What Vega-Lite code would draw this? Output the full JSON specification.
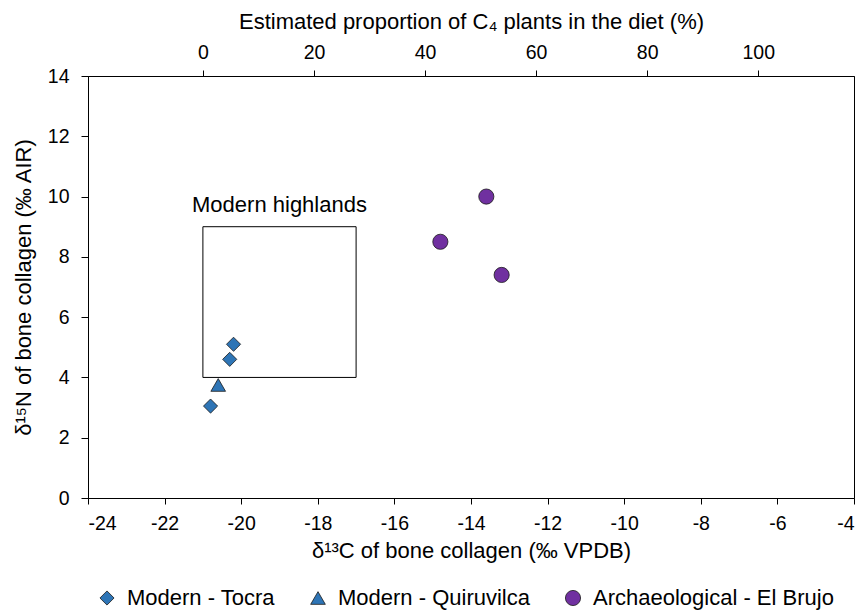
{
  "$schema": "https://vega.github.io/schema/vega-lite/v6.json",
  "autosize": {"type": "none"},
  "width": 766,
  "height": 422,
  "padding": {"left": 88, "top": 76, "right": 5, "bottom": 115},
  "background": "white",
  "config": {
    "font": "Liberation Sans",
    "view": {"stroke": "black", "strokeWidth": 1},
    "axis": {
      "grid": false,
      "domainColor": "black",
      "tickColor": "black",
      "labelColor": "black",
      "titleColor": "black",
      "labelFont": "Liberation Sans",
      "titleFont": "Liberation Sans",
      "labelFontSize": 19.5,
      "titleFontSize": 22,
      "titleFontWeight": "normal",
      "tickSize": 6
    },
    "legend": {
      "labelFont": "Liberation Sans",
      "labelFontSize": 22,
      "labelColor": "black",
      "labelLimit": 400
    }
  },
  "datasets": {
    "points": [
      {"group": "Modern - Tocra", "d13C": -20.2, "d15N": 5.1},
      {"group": "Modern - Tocra", "d13C": -20.3, "d15N": 4.6},
      {"group": "Modern - Tocra", "d13C": -20.8, "d15N": 3.05},
      {"group": "Modern - Quiruvilca", "d13C": -20.6, "d15N": 3.75},
      {"group": "Archaeological - El Brujo", "d13C": -13.6, "d15N": 10.0},
      {"group": "Archaeological - El Brujo", "d13C": -14.8, "d15N": 8.5},
      {"group": "Archaeological - El Brujo", "d13C": -13.2, "d15N": 7.4}
    ],
    "box": [
      {"label": "Modern highlands", "x1": -21, "x2": -17, "y1": 4, "y2": 9, "lx": -19, "ly": 9.72}
    ]
  },
  "layer": [
    {
      "data": {"name": "box"},
      "mark": {"type": "rect", "fill": null, "fillOpacity": 0, "stroke": "black", "strokeWidth": 1},
      "encoding": {
        "x": {
          "field": "x1", "type": "quantitative",
          "scale": {"domain": [-24, -4], "nice": false, "zero": false},
          "axis": {
            "orient": "top",
            "title": "Estimated proportion of C₄ plants in the diet (%)",
            "values": [-21, -18.1, -15.2, -12.3, -9.4, -6.5],
            "labelExpr": "round((datum.value + 21) / 0.145) + ''",
            "labelPadding": 8,
            "titlePadding": 9
          }
        },
        "x2": {"field": "x2"},
        "y": {
          "field": "y1", "type": "quantitative",
          "scale": {"domain": [0, 14], "nice": false},
          "axis": {
            "title": "δ¹⁵N of bone collagen (‰ AIR)",
            "values": [0, 2, 4, 6, 8, 10, 12, 14],
            "labelExpr": "datum.value + ''",
            "tickSize": 7,
            "labelPadding": 12,
            "titlePadding": 12
          }
        },
        "y2": {"field": "y2"}
      }
    },
    {
      "data": {"name": "box"},
      "mark": {"type": "text", "fontSize": 22, "color": "black", "align": "center", "baseline": "middle"},
      "encoding": {
        "x": {"field": "lx", "type": "quantitative", "axis": null},
        "y": {"field": "ly", "type": "quantitative"},
        "text": {"field": "label"}
      }
    },
    {
      "data": {"name": "points"},
      "mark": {"type": "point", "filled": true, "opacity": 1, "stroke": "#1a1a1a", "strokeWidth": 0.8},
      "encoding": {
        "x": {
          "field": "d13C", "type": "quantitative",
          "axis": {
            "orient": "bottom",
            "title": "δ¹³C of bone collagen (‰ VPDB)",
            "values": [-24, -22, -20, -18, -16, -14, -12, -10, -8, -6, -4],
            "labelExpr": "datum.value + ''",
            "labelPadding": 10,
            "titlePadding": 8
          }
        },
        "y": {"field": "d15N", "type": "quantitative"},
        "color": {
          "field": "group", "type": "nominal",
          "scale": {
            "domain": ["Modern - Tocra", "Modern - Quiruvilca", "Archaeological - El Brujo"],
            "range": ["#2E75B6", "#2E75B6", "#7030A0"]
          },
          "legend": {
            "title": null,
            "orient": "none",
            "direction": "horizontal",
            "legendX": 8,
            "legendY": 511,
            "symbolSize": 190,
            "symbolStrokeColor": "#1a1a1a",
            "symbolStrokeWidth": 0.8,
            "labelOffset": 9,
            "columnPadding": 32
          }
        },
        "shape": {
          "field": "group", "type": "nominal",
          "scale": {
            "domain": ["Modern - Tocra", "Modern - Quiruvilca", "Archaeological - El Brujo"],
            "range": ["diamond", "triangle-up", "circle"]
          }
        },
        "size": {
          "field": "group", "type": "nominal",
          "scale": {
            "domain": ["Modern - Tocra", "Modern - Quiruvilca", "Archaeological - El Brujo"],
            "range": [200, 230, 190]
          },
          "legend": null
        }
      }
    }
  ],
  "resolve": {"axis": {"x": "independent"}}
}
